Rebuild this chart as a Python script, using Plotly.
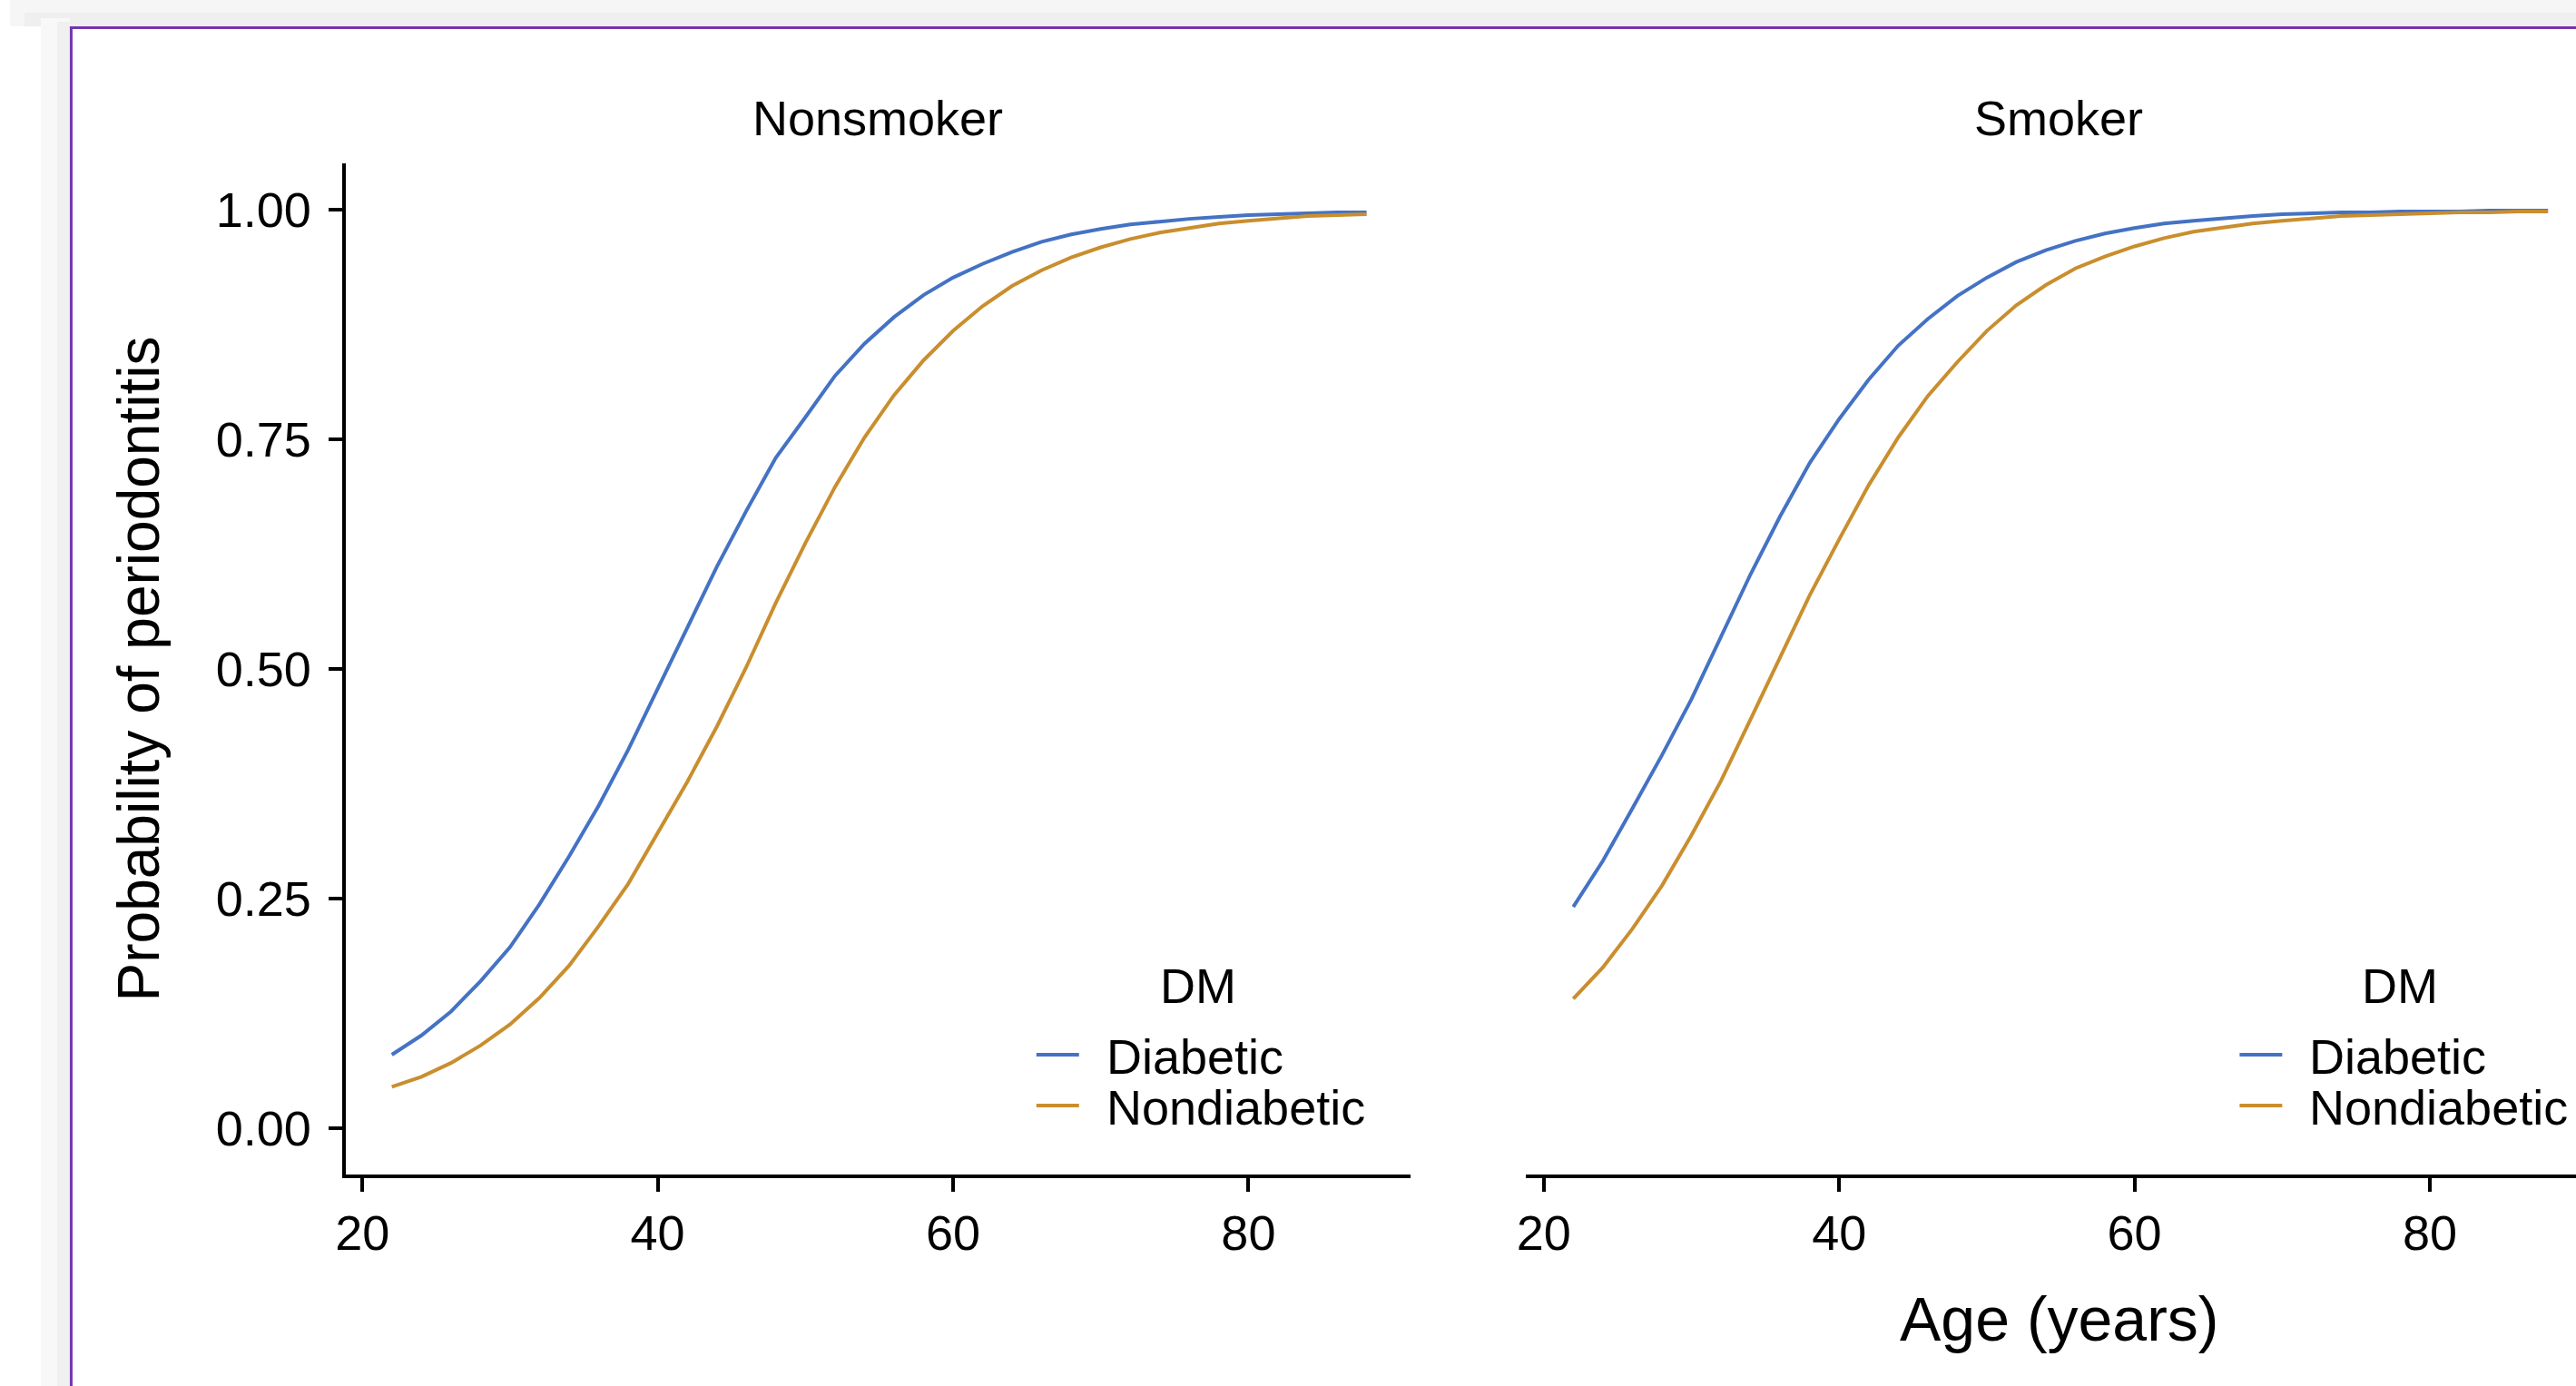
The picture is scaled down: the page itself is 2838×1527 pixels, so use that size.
import plotly.graph_objects as go

# ---------------- data ----------------
ages = [22, 24, 26, 28, 30, 32, 34, 36, 38, 40, 42, 44, 46, 48, 50, 52, 54,
        56, 58, 60, 62, 64, 66, 68, 70, 72, 74, 76, 78, 80, 82, 84, 86, 88]

nonsmoker_diabetic = [0.080, 0.101, 0.127, 0.160, 0.197, 0.244, 0.296, 0.351, 0.412, 0.478,
                      0.545, 0.611, 0.672, 0.730, 0.774, 0.819, 0.854, 0.883, 0.907, 0.926,
                      0.941, 0.954, 0.965, 0.973, 0.979, 0.984, 0.987, 0.990, 0.992, 0.994,
                      0.995, 0.996, 0.997, 0.997]
nonsmoker_nondiabetic = [0.045, 0.056, 0.071, 0.090, 0.113, 0.142, 0.177, 0.220, 0.266, 0.321,
                         0.377, 0.437, 0.502, 0.572, 0.637, 0.698, 0.752, 0.798, 0.836, 0.868,
                         0.895, 0.917, 0.934, 0.948, 0.959, 0.968, 0.975, 0.980, 0.985, 0.988,
                         0.991, 0.993, 0.994, 0.995]
smoker_diabetic = [0.241, 0.291, 0.348, 0.406, 0.467, 0.535, 0.603, 0.666, 0.724, 0.772,
                   0.815, 0.852, 0.881, 0.906, 0.926, 0.943, 0.956, 0.966, 0.974, 0.980,
                   0.985, 0.988, 0.991, 0.993, 0.995, 0.996, 0.997, 0.997, 0.998, 0.998,
                   0.998, 0.999, 0.999, 0.999]
smoker_nondiabetic = [0.141, 0.175, 0.217, 0.264, 0.319, 0.378, 0.445, 0.512, 0.580, 0.641,
                      0.700, 0.752, 0.797, 0.834, 0.868, 0.896, 0.918, 0.936, 0.949, 0.960,
                      0.969, 0.976, 0.981, 0.985, 0.988, 0.991, 0.993, 0.994, 0.995, 0.996,
                      0.997, 0.997, 0.998, 0.998]

panel_titles = ["Nonsmoker", "Smoker"]
group_names = ["Diabetic", "Nondiabetic"]
legend_title = "DM"
x_title = "Age (years)"
y_title = "Probability of periodontitis"
x_ticks = [20, 40, 60, 80]
y_ticks = [0, 0.25, 0.5, 0.75, 1.0]
y_tick_text = ["0.00", "0.25", "0.50", "0.75", "1.00"]

# ---------------- styling ----------------
W, H = 2838, 1527
X_OFF = 8            # horizontal offset observed in the rendered page
FONT = "Liberation Sans, Arial, Helvetica, sans-serif"
BLUE = "#4472C4"
ORANGE = "#C98E2E"
PURPLE = "#7535AE"
COLORS = [BLUE, ORANGE]


def px(x):
    """screen pixel -> paper fraction (horizontal)"""
    return (x - X_OFF) / (W - X_OFF)


def py(y):
    return 1 - y / H


fig = go.Figure()

series = [
    (nonsmoker_diabetic, group_names[0], BLUE, "x", "y"),
    (nonsmoker_nondiabetic, group_names[1], ORANGE, "x", "y"),
    (smoker_diabetic, group_names[0], BLUE, "x2", "y2"),
    (smoker_nondiabetic, group_names[1], ORANGE, "x2", "y2"),
]
for vals, name, col, xa, ya in series:
    fig.add_trace(go.Scatter(
        x=ages, y=vals, mode="lines", name=name,
        line=dict(color=col, width=4),
        xaxis=xa, yaxis=ya, showlegend=False,
    ))

X0 = 18.86
PX_PER_YEAR = 1175 / (91.0 - X0)
y_dom = [py(1293.6), py(180.4)]
common_x = dict(
    showgrid=False, zeroline=False, showline=True, linecolor="black", linewidth=4,
    ticks="outside", ticklen=15, tickwidth=4, tickcolor="black",
    tickvals=x_ticks, ticktext=[str(v) for v in x_ticks],
    tickfont=dict(family=FONT, size=54, color="black"),
    ticklabelstandoff=0,
)

fig.update_layout(
    width=W, height=H, autosize=False,
    margin=dict(l=0, r=0, t=0, b=0),
    paper_bgcolor="white", plot_bgcolor="white",
    font=dict(family=FONT, color="black"),
    showlegend=False,
    xaxis=dict(domain=[px(378), px(1553)], range=[X0, 91.0], anchor="y", **common_x),
    xaxis2=dict(domain=[px(1680), 1.0], range=[18.80, 18.80 + (W - 1680) / PX_PER_YEAR],
                anchor="y2", **common_x),
    yaxis=dict(domain=y_dom, range=[-0.05, 1.05], anchor="x",
               showgrid=False, zeroline=False, showline=True, linecolor="black", linewidth=4,
               ticks="outside", ticklen=15, tickwidth=4, tickcolor="black",
               tickvals=y_ticks, ticktext=y_tick_text,
               tickfont=dict(family=FONT, size=54, color="black"),
               ticklabelstandoff=8,
               title=dict(text=y_title,
                          font=dict(family=FONT, size=64, color="black"), standoff=42)),
    yaxis2=dict(domain=y_dom, range=[-0.05, 1.05], anchor="x2",
                showgrid=False, zeroline=False, showline=False, showticklabels=False,
                ticks=""),
)

# x-axis title (centred under the Smoker facet, as in the original)
fig.add_annotation(text=x_title, x=px(2268), y=py(1453), xref="paper", yref="paper",
                   showarrow=False, xanchor="center", yanchor="middle",
                   font=dict(family=FONT, size=68, color="black"))

# facet strip titles
for title, (a, b) in zip(panel_titles, [(378, 1553), (1680, 2855)]):
    fig.add_annotation(text=title, x=px((a + b) / 2), y=py(130), xref="paper", yref="paper",
                       showarrow=False, xanchor="center", yanchor="middle",
                       font=dict(family=FONT, size=54, color="black"))

# in-panel keys (title "DM", line sample, label) for each facet
for title_cx, line_x0 in [(1318, 1140), (2644, 2467)]:
    fig.add_annotation(text=legend_title, x=px(title_cx), y=py(1086), xref="paper", yref="paper",
                       showarrow=False, xanchor="center", yanchor="middle",
                       font=dict(family=FONT, size=54, color="black"))
    for name, col, yc in zip(group_names, COLORS, [1162, 1218]):
        fig.add_shape(type="line", xref="paper", yref="paper",
                      x0=px(line_x0), x1=px(line_x0 + 47), y0=py(yc), y1=py(yc),
                      line=dict(color=col, width=4))
        fig.add_annotation(text=name, x=px(line_x0 + 75), y=py(yc + 2), xref="paper", yref="paper",
                           showarrow=False, xanchor="left", yanchor="middle",
                           font=dict(family=FONT, size=54, color="black"))

# page chrome: light shadow band and purple frame
shapes = [
    dict(type="rect", x0=0, x1=1, y0=py(0), y1=py(29), fillcolor="#f6f6f6", line_width=0, layer="below"),
    dict(type="rect", x0=px(24), x1=1, y0=py(14), y1=py(29), fillcolor="#efefef", line_width=0, layer="below"),
    dict(type="rect", x0=px(42), x1=px(74), y0=0, y1=py(20), fillcolor="#f8f8f8", line_width=0, layer="below"),
    dict(type="rect", x0=px(60), x1=px(74), y0=0, y1=py(24), fillcolor="#f0f0f0", line_width=0, layer="below"),
    dict(type="line", x0=px(74), x1=1, y0=py(30.5), y1=py(30.5), line=dict(color=PURPLE, width=3)),
    dict(type="line", x0=px(75.5), x1=px(75.5), y0=py(29), y1=0, line=dict(color=PURPLE, width=3)),
]
for s in shapes:
    s.update(xref="paper", yref="paper")
    fig.add_shape(**s)

post = ("document.documentElement.style.margin='0';document.body.style.margin='0';"
        "document.documentElement.style.overflow='hidden';document.body.style.overflow='hidden';"
        "var gd=document.getElementById('{plot_id}');gd.style.position='fixed';"
        "gd.style.left='0px';gd.style.top='0px';")

fig.write_html("out.html", config={"displayModeBar": False, "responsive": False},
               post_script=post)
